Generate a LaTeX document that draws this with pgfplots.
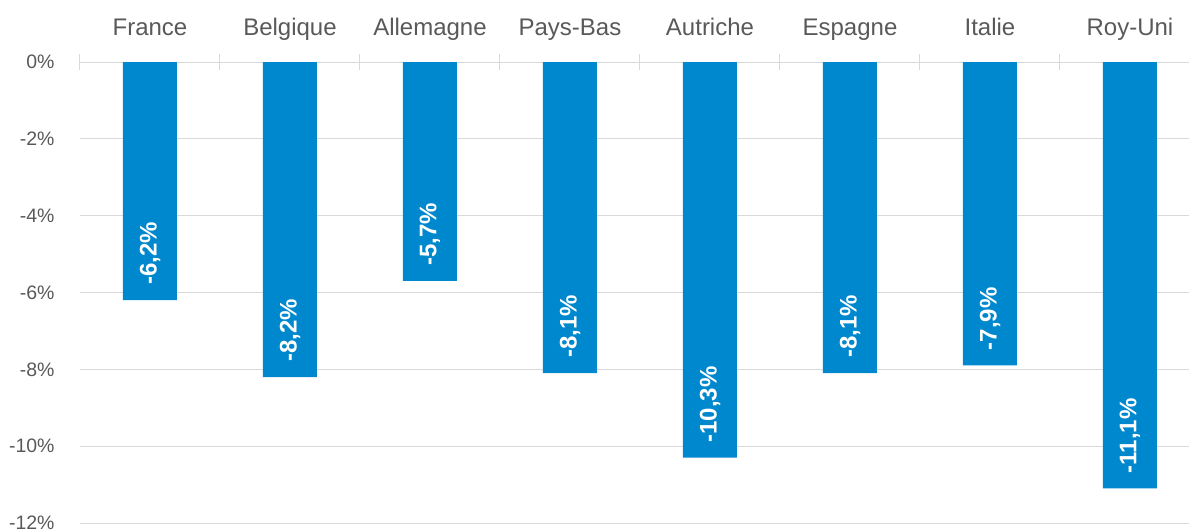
\documentclass[border=0pt]{standalone}
\usepackage{pgfplots}
\pgfplotsset{compat=1.18}
\usepackage{pgfplotstable}
\usepackage{fontspec}
\setmainfont{Liberation Sans}
\definecolor{barblue}{RGB}{0,136,206}
\definecolor{txtgray}{RGB}{89,89,89}
\definecolor{gridgray}{RGB}{217,217,217}
\pgfplotstableread{
x y lab
0 -6.2 {-6,2\%}
1 -8.2 {-8,2\%}
2 -5.7 {-5,7\%}
3 -8.1 {-8,1\%}
4 -10.3 {-10,3\%}
5 -8.1 {-8,1\%}
6 -7.9 {-7,9\%}
7 -11.1 {-11,1\%}
}\data
\begin{document}
\begin{tikzpicture}
\begin{axis}[name=ax, scale only axis, width=840pt, height=345.75pt,
  xmin=-0.5, xmax=7.5, ymin=-12, ymax=0,
  ybar, bar width=40.5pt,
  axis line style={draw=none},
  xtick={0,...,7},
  xticklabels={France,Belgique,Allemagne,Pays-Bas,Autriche,Espagne,Italie,Roy-Uni},
  xticklabel pos=upper, xtick pos=upper,
  major x tick style={draw=none},
  minor xtick={-0.5,0.5,...,7.5},
  minor tick length=11.25pt,
  tick align=center,
  minor x tick style={gridgray, line width=0.75pt},
  xticklabel style={font=\fontsize{18}{18}\selectfont, text=txtgray, anchor=base, yshift=17.5pt},
  ytick={-12,-10,...,0},
  yticklabels={-12\%,-10\%,-8\%,-6\%,-4\%,-2\%,0\%},
  ytick style={draw=none},
  yticklabel style={font=\fontsize{14.6}{15}\selectfont, text=txtgray, anchor=east, inner sep=0pt, xshift=-16.8pt},
  ymajorgrids, grid style={gridgray, line width=0.75pt},
  clip=false,
]
\addplot[fill=barblue, draw=none, nodes near coords, point meta=explicit symbolic,
  nodes near coords style={font=\bfseries\fontsize{18}{18}\selectfont, text=white, rotate=90, anchor=west, inner sep=0pt, xshift=11.25pt}]
  table[x=x, y=y, meta=lab]{\data};
\end{axis}
\pgfresetboundingbox
\path[use as bounding box] ([xshift=-60pt,yshift=-4.7pt]ax.south west) rectangle ([xshift=831.75pt,yshift=46.5pt]ax.north west);
\end{tikzpicture}
\end{document}
